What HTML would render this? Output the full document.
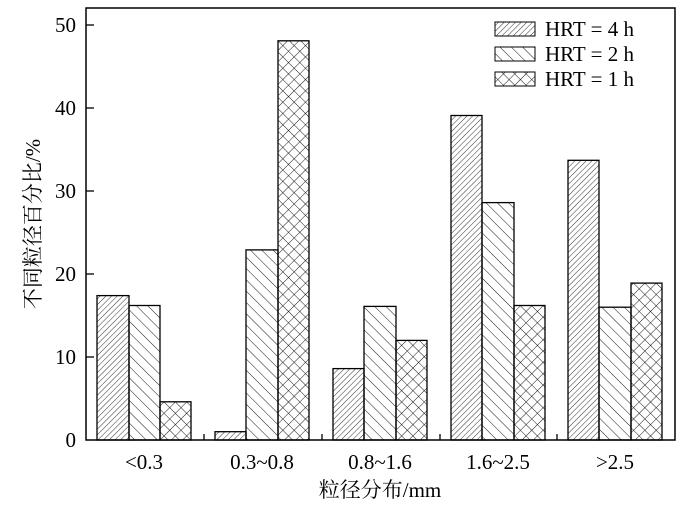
<!DOCTYPE html>
<html><head><meta charset="utf-8"><style>body{margin:0;background:#fff}</style></head><body>
<svg width="700" height="507" xmlns="http://www.w3.org/2000/svg" font-family="Liberation Serif, Noto Serif CJK SC, serif">
<defs>
<pattern id="p4" patternUnits="userSpaceOnUse" width="4" height="4" patternTransform="rotate(45)"><line x1="0" y1="0" x2="0" y2="4" stroke="#000" stroke-width="0.8"/></pattern>
<pattern id="p2" patternUnits="userSpaceOnUse" width="8" height="8" patternTransform="rotate(-45)"><line x1="0" y1="0" x2="0" y2="8" stroke="#000" stroke-width="0.9"/></pattern>
<pattern id="p1" patternUnits="userSpaceOnUse" width="8" height="8" patternTransform="rotate(45)"><line x1="0" y1="0" x2="0" y2="8" stroke="#000" stroke-width="0.9"/><line x1="0" y1="0" x2="8" y2="0" stroke="#000" stroke-width="0.9"/></pattern>
</defs>
<g stroke="#000" stroke-width="1.3">
<rect x="97" y="295.6" width="32" height="144.4" fill="url(#p4)"/>
<rect x="129" y="305.5" width="31" height="134.5" fill="url(#p2)"/>
<rect x="160" y="401.8" width="31" height="38.2" fill="url(#p1)"/>
<rect x="215" y="431.7" width="31" height="8.3" fill="url(#p4)"/>
<rect x="246" y="249.9" width="32" height="190.1" fill="url(#p2)"/>
<rect x="278" y="40.8" width="31" height="399.2" fill="url(#p1)"/>
<rect x="333" y="368.6" width="31" height="71.4" fill="url(#p4)"/>
<rect x="364" y="306.4" width="32" height="133.6" fill="url(#p2)"/>
<rect x="396" y="340.4" width="31" height="99.6" fill="url(#p1)"/>
<rect x="451" y="115.5" width="31" height="324.5" fill="url(#p4)"/>
<rect x="482" y="202.6" width="32" height="237.4" fill="url(#p2)"/>
<rect x="514" y="305.5" width="31" height="134.5" fill="url(#p1)"/>
<rect x="568" y="160.3" width="31" height="279.7" fill="url(#p4)"/>
<rect x="599" y="307.2" width="32" height="132.8" fill="url(#p2)"/>
<rect x="631" y="283.1" width="31" height="156.9" fill="url(#p1)"/>
</g>
<rect x="86" y="8" width="589" height="432" fill="none" stroke="#000" stroke-width="1.5"/>
<g stroke="#000" stroke-width="1.3">
<line x1="86" y1="25" x2="94" y2="25"/><line x1="86" y1="108" x2="94" y2="108"/><line x1="86" y1="191" x2="94" y2="191"/><line x1="86" y1="274" x2="94" y2="274"/><line x1="86" y1="357" x2="94" y2="357"/>
<line x1="204" y1="440" x2="204" y2="434"/><line x1="322" y1="440" x2="322" y2="434"/><line x1="440" y1="440" x2="440" y2="434"/><line x1="557" y1="440" x2="557" y2="434"/>
<rect x="495" y="22" width="40" height="14" fill="url(#p4)" stroke-width="1"/>
<rect x="495" y="47" width="40" height="14" fill="url(#p2)" stroke-width="1"/>
<rect x="495" y="72" width="40" height="14" fill="url(#p1)" stroke-width="1"/>
</g>
<g font-size="21" fill="#000">
<text x="545" y="36">HRT = 4 h</text><text x="545" y="61">HRT = 2 h</text><text x="545" y="86">HRT = 1 h</text>
<g text-anchor="end"><text x="76" y="32">50</text><text x="76" y="115">40</text><text x="76" y="198">30</text><text x="76" y="281">20</text><text x="76" y="364">10</text><text x="76" y="447">0</text></g>
<g text-anchor="middle"><text x="144" y="469">&lt;0.3</text><text x="262" y="469">0.3~0.8</text><text x="380" y="469">0.8~1.6</text><text x="498" y="469">1.6~2.5</text><text x="615" y="469">&gt;2.5</text>
<text x="380" y="497">粒径分布/mm</text>
<text transform="translate(40,224) rotate(-90)">不同粒径百分比/%</text></g>
</g>
</svg>
</body></html>
